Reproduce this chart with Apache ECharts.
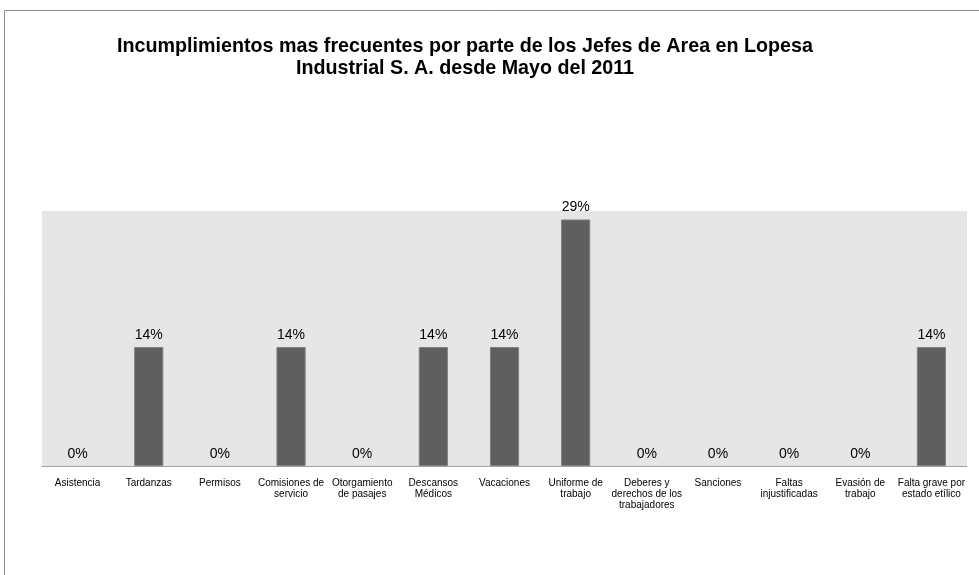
<!DOCTYPE html>
<html>
<head>
<meta charset="utf-8">
<script src="https://cdn.jsdelivr.net/npm/echarts@6/dist/echarts.min.js"></script>
<style>
  html, body { margin: 0; padding: 0; background: #ffffff; }
  #chart { width: 979px; height: 575px; }
</style>
</head>
<body>
<div id="chart"></div>
<script>
// Categories (line breaks as shown under each bar)
const categories = [
  'Asistencia',
  'Tardanzas',
  'Permisos',
  'Comisiones de\nservicio',
  'Otorgamiento\nde pasajes',
  'Descansos\nMédicos',
  'Vacaciones',
  'Uniforme de\ntrabajo',
  'Deberes y\nderechos de los\ntrabajadores',
  'Sanciones',
  'Faltas\ninjustificadas',
  'Evasión de\ntrabajo',
  'Falta grave por\nestado etílico'
];

// Share of incidents per category, in percent
const percentages = [0, 14, 0, 14, 0, 14, 14, 29, 0, 0, 0, 0, 14];

const titleLines = [
  'Incumplimientos mas frecuentes por parte de los Jefes de Area en Lopesa',
  'Industrial S. A. desde Mayo del 2011'
];

const FONT = 'Liberation Sans, Arial, sans-serif';

// Zero-height bars get no outline so they leave no visible stub
const barData = percentages.map(v => ({
  value: v,
  itemStyle: v === 0 ? { borderWidth: 0 } : {}
}));

const chart = echarts.init(document.getElementById('chart'), null, { renderer: 'canvas' });

chart.setOption({
  backgroundColor: '#ffffff',
  animation: false,
  title: {
    text: titleLines.join('\n'),
    left: 460,
    top: 30,
    textAlign: 'center',
    textStyle: {
      fontFamily: FONT,
      fontSize: 19.7,
      fontWeight: 'bold',
      color: '#000000',
      lineHeight: 22.5
    }
  },
  graphic: [
    {
      type: 'polyline',
      silent: true,
      shape: { points: [[4.5, 580], [4.5, 10.5], [985, 10.5]] },
      style: { stroke: '#8c8c8c', lineWidth: 1, fill: null }
    }
  ],
  grid: {
    left: 42,
    right: 12,
    top: 211,
    bottom: 109,
    show: true,
    backgroundColor: '#e6e6e6',
    borderWidth: 0
  },
  xAxis: {
    type: 'category',
    data: categories,
    axisLine: { show: true, lineStyle: { color: '#a0a0a0', width: 1 } },
    axisTick: { show: false },
    axisLabel: {
      interval: 0,
      margin: 12,
      fontFamily: FONT,
      fontSize: 10,
      lineHeight: 11,
      color: '#000000',
      verticalAlign: 'top'
    }
  },
  yAxis: {
    type: 'value',
    min: 0,
    max: 30,
    show: false,
    splitLine: { show: false }
  },
  series: [
    {
      type: 'bar',
      data: barData,
      barWidth: '41%',
      itemStyle: {
        color: '#5f5f5f',
        borderColor: '#808080',
        borderWidth: 1
      },
      label: {
        show: true,
        position: 'top',
        distance: 5,
        formatter: p => p.value + '%',
        fontFamily: FONT,
        fontSize: 14,
        color: '#000000'
      }
    }
  ]
});
</script>
</body>
</html>
